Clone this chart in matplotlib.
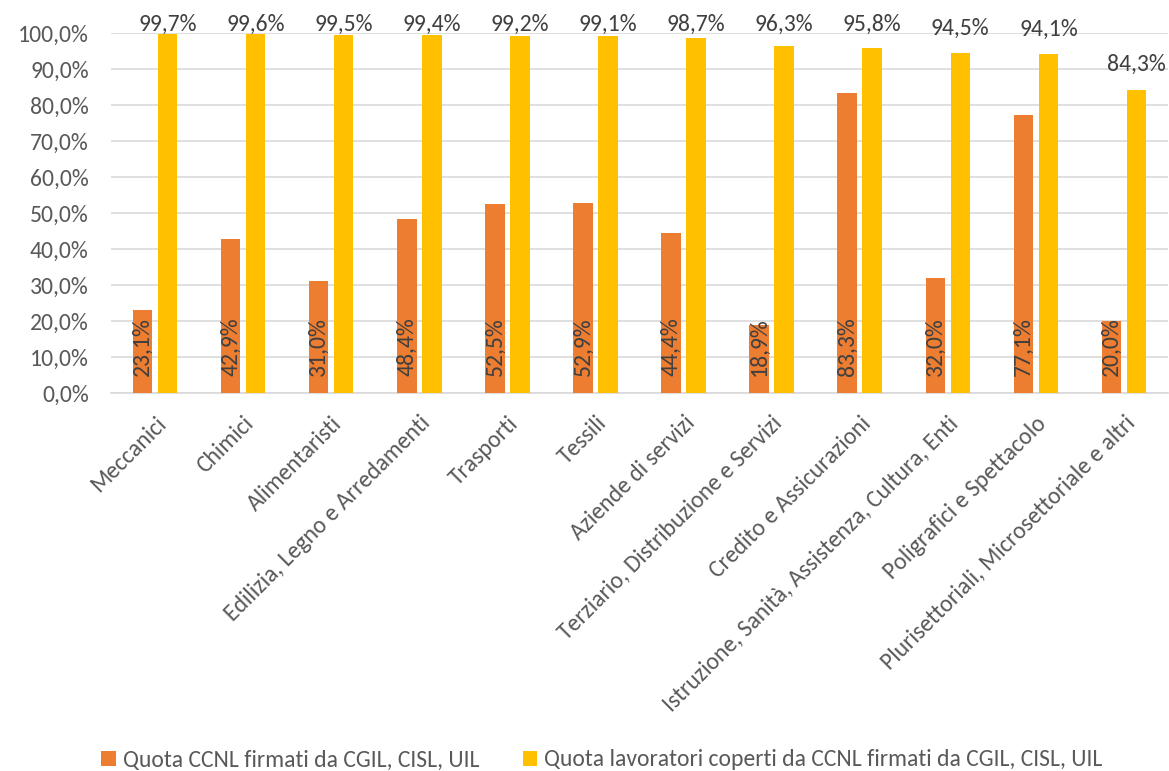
import matplotlib
matplotlib.use("Agg")
import matplotlib.pyplot as plt
import matplotlib.transforms as mtransforms
import numpy as np
from matplotlib import font_manager

categories = ["Meccanici", "Chimici", "Alimentaristi", "Edilizia, Legno e Arredamenti",
              "Trasporti", "Tessili", "Aziende di servizi", "Terziario, Distribuzione e Servizi",
              "Credito e Assicurazioni", "Istruzione, Sanità, Assistenza, Cultura, Enti",
              "Poligrafici e Spettacolo", "Plurisettoriali, Microsettoriale e altri"]
quota_ccnl = [23.1, 42.9, 31.0, 48.4, 52.5, 52.9, 44.4, 18.9, 83.3, 32.0, 77.1, 20.0]
quota_lav = [99.7, 99.6, 99.5, 99.4, 99.2, 99.1, 98.7, 96.3, 95.8, 94.5, 94.1, 84.3]
series_names = ["Quota CCNL firmati da CGIL, CISL, UIL",
                "Quota lavoratori coperti da CCNL firmati da CGIL, CISL, UIL"]

names = {f.name for f in font_manager.fontManager.ttflist}
if "Carlito" in names:
    fam = ["Carlito", "DejaVu Sans"]
    FS = 17
else:
    fam = ["Liberation Sans", "DejaVu Sans"]
    FS = 15
plt.rcParams['font.family'] = fam

def fmt(v):
    return f"{v:.1f}".replace(".", ",") + "%"

fig = plt.figure(figsize=(11.69, 7.71), dpi=100)
ax = fig.add_axes([111 / 1169, 1 - 393 / 771, (1168 - 111) / 1169, 360 / 771])

x = np.arange(len(categories))
w = 0.222
off = 0.142
b1 = ax.bar(x - off, quota_ccnl, w, color="#ED7D31", label=series_names[0], zorder=3)
b2 = ax.bar(x + off, quota_lav, w, color="#FFC000", label=series_names[1], zorder=3)

for xi, v in zip(x, quota_ccnl):
    ax.text(xi - off, 4.7, fmt(v), rotation=90, ha="center", va="bottom",
            fontsize=FS, color="#404040", zorder=4)
for xi, v in zip(x, quota_lav):
    ax.text(xi + off, min(v + 5.1, 100.5), fmt(v), ha="center", va="baseline",
            fontsize=FS, color="#404040", zorder=4, clip_on=False)

ax.set_xlim(-0.5, len(categories) - 0.5)
ax.set_ylim(0, 100)
ax.set_yticks(np.arange(0, 101, 10))
ax.set_yticklabels([fmt(v) for v in np.arange(0, 101, 10)], fontsize=FS, color="#595959")
ax.set_xticks(x)
ax.set_xticklabels(categories, rotation=45, ha="right", va="top", rotation_mode="anchor",
                   fontsize=FS, color="#595959")
shift = mtransforms.ScaledTranslation(-4 / 100, 0, fig.dpi_scale_trans)
for lab in ax.get_xticklabels():
    lab.set_transform(lab.get_transform() + shift)
ax.tick_params(axis="both", length=0)
ax.tick_params(axis="x", pad=14)
ax.tick_params(axis="y", pad=16)
ax.grid(axis="y", color="#D9D9D9", linewidth=1.2, zorder=0)
for s in ["top", "right", "left"]:
    ax.spines[s].set_visible(False)
ax.spines["bottom"].set_color("#D9D9D9")
ax.spines["bottom"].set_linewidth(1.2)

leg = fig.legend(handles=[b1, b2], loc="center", bbox_to_anchor=(602 / 1169, 1 - 760 / 771), ncol=2,
                 frameon=False, fontsize=FS, handlelength=0.6, handleheight=0.6,
                 handletextpad=0.3, columnspacing=1.85, labelcolor="#595959",
                 borderpad=0, borderaxespad=0)

fig.savefig("out.png", dpi=100)
